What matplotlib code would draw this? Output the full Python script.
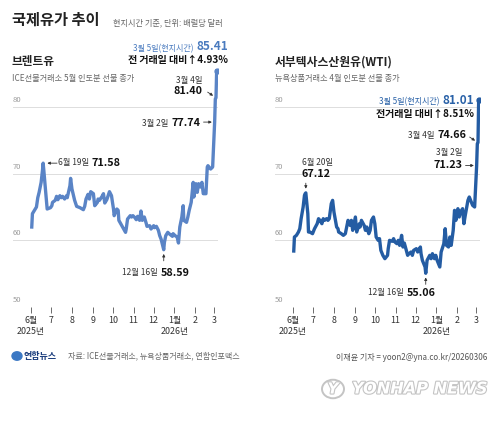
import matplotlib
matplotlib.use('Agg')
import matplotlib.pyplot as plt
import matplotlib.patheffects as pe
from matplotlib.patches import Circle
import pandas as pd

plt.rcParams['font.family'] = ['Noto Sans CJK KR', 'DejaVu Sans']

# ---- data ----
brent_dates = [
    '2025-06-02', '2025-06-03', '2025-06-06', '2025-06-09', '2025-06-11', '2025-06-13',
    '2025-06-16', '2025-06-18', '2025-06-19', '2025-06-20', '2025-06-23', '2025-06-25',
    '2025-06-30', '2025-07-02', '2025-07-03', '2025-07-07', '2025-07-09', '2025-07-11',
    '2025-07-14', '2025-07-16', '2025-07-18', '2025-07-21', '2025-07-24', '2025-07-25',
    '2025-07-29', '2025-07-30', '2025-08-01', '2025-08-05', '2025-08-08', '2025-08-13',
    '2025-08-18', '2025-08-20', '2025-08-22', '2025-08-25', '2025-08-27', '2025-08-29',
    '2025-09-02', '2025-09-04', '2025-09-08', '2025-09-09', '2025-09-11', '2025-09-15',
    '2025-09-17', '2025-09-19', '2025-09-22', '2025-09-24', '2025-09-26', '2025-09-29',
    '2025-10-02', '2025-10-03', '2025-10-07', '2025-10-09', '2025-10-10', '2025-10-15',
    '2025-10-20', '2025-10-21', '2025-10-23', '2025-10-27', '2025-10-29', '2025-10-31',
    '2025-11-03', '2025-11-05', '2025-11-07', '2025-11-10', '2025-11-12', '2025-11-14',
    '2025-11-17', '2025-11-20', '2025-11-21', '2025-11-25', '2025-11-27', '2025-12-01',
    '2025-12-02', '2025-12-05', '2025-12-08', '2025-12-10', '2025-12-12', '2025-12-16',
    '2025-12-17', '2025-12-19', '2025-12-22', '2025-12-24', '2025-12-29', '2025-12-30',
    '2026-01-02', '2026-01-05', '2026-01-07', '2026-01-09', '2026-01-12', '2026-01-14',
    '2026-01-15', '2026-01-19', '2026-01-21', '2026-01-23', '2026-01-26', '2026-01-29',
    '2026-01-30', '2026-02-02', '2026-02-04', '2026-02-06', '2026-02-09', '2026-02-11',
    '2026-02-13', '2026-02-17', '2026-02-19', '2026-02-20', '2026-02-24', '2026-02-27',
    '2026-03-02', '2026-03-03', '2026-03-04', '2026-03-05',
]
brent_vals = [
    62.0, 64.0, 64.5, 65.0, 66.4, 67.2,
    68.7, 70.5, 71.58, 70.5, 67.0, 64.7,
    64.9, 65.2, 65.7, 66.0, 66.6, 66.1,
    66.7, 66.4, 66.6, 66.2, 66.7, 66.4,
    68.2, 69.3, 67.7, 66.0, 65.1, 64.9,
    64.6, 65.1, 66.2, 66.9, 66.2, 67.3,
    67.0, 65.2, 65.7, 66.2, 66.0, 66.6,
    67.0, 65.6, 66.1, 66.7, 67.3, 66.7,
    64.7, 63.7, 64.7, 64.5, 63.0, 62.1,
    61.2, 61.7, 63.2, 63.7, 63.5, 63.7,
    63.4, 63.1, 63.6, 63.0, 64.4, 63.0,
    63.5, 62.5, 62.1, 62.2, 61.7, 62.2,
    61.9, 62.1, 61.5, 60.7, 60.2, 58.59,
    59.7, 60.7, 61.2, 61.0, 60.6, 61.0,
    60.7, 60.5, 59.6, 62.0, 63.5, 65.2,
    63.0, 62.7, 63.5, 64.5, 65.7, 68.7,
    66.5, 68.5, 67.2, 68.5, 68.0, 68.7,
    67.0, 67.0, 71.0, 71.2, 70.7, 71.0,
    77.74, 81.2, 81.40, 85.41,
]

wti_dates = [
    '2025-06-02', '2025-06-03', '2025-06-06', '2025-06-09', '2025-06-11', '2025-06-13',
    '2025-06-16', '2025-06-18', '2025-06-19', '2025-06-20', '2025-06-23', '2025-06-24',
    '2025-06-26', '2025-06-30', '2025-07-01', '2025-07-03', '2025-07-07', '2025-07-09',
    '2025-07-11', '2025-07-14', '2025-07-16', '2025-07-18', '2025-07-21', '2025-07-23',
    '2025-07-25', '2025-07-28', '2025-07-30', '2025-08-01', '2025-08-05', '2025-08-07',
    '2025-08-08', '2025-08-12', '2025-08-15', '2025-08-18', '2025-08-20', '2025-08-22',
    '2025-08-25', '2025-08-27', '2025-08-29', '2025-09-02', '2025-09-04', '2025-09-08',
    '2025-09-09', '2025-09-11', '2025-09-15', '2025-09-17', '2025-09-19', '2025-09-22',
    '2025-09-24', '2025-09-26', '2025-09-29', '2025-10-01', '2025-10-03', '2025-10-06',
    '2025-10-08', '2025-10-10', '2025-10-13', '2025-10-16', '2025-10-20', '2025-10-21',
    '2025-10-23', '2025-10-27', '2025-10-29', '2025-10-31', '2025-11-03', '2025-11-05',
    '2025-11-07', '2025-11-10', '2025-11-12', '2025-11-14', '2025-11-17', '2025-11-19',
    '2025-11-21', '2025-11-24', '2025-11-26', '2025-11-28', '2025-12-02', '2025-12-04',
    '2025-12-08', '2025-12-09', '2025-12-11', '2025-12-15', '2025-12-16', '2025-12-18',
    '2025-12-22', '2025-12-24', '2025-12-26', '2025-12-29', '2025-12-31', '2026-01-02',
    '2026-01-06', '2026-01-08', '2026-01-12', '2026-01-14', '2026-01-16', '2026-01-19',
    '2026-01-21', '2026-01-23', '2026-01-26', '2026-01-28', '2026-01-30', '2026-02-02',
    '2026-02-04', '2026-02-06', '2026-02-09', '2026-02-11', '2026-02-13', '2026-02-17',
    '2026-02-19', '2026-02-23', '2026-02-24', '2026-02-27', '2026-03-02', '2026-03-03',
    '2026-03-04', '2026-03-05',
]
wti_vals = [
    58.4, 60.5, 60.75, 61.25, 61.75, 63.25,
    65.0, 66.75, 67.0, 67.12, 64.0, 61.25,
    61.25, 61.0, 61.25, 61.75, 62.5, 63.25,
    63.0, 62.5, 63.25, 63.0, 63.25, 63.0,
    63.25, 65.5, 66.0, 64.25, 62.0, 61.75,
    61.25, 61.0, 60.75, 61.0, 62.0, 63.0,
    62.25, 63.0, 61.5, 63.5, 61.25, 62.5,
    62.0, 63.0, 62.25, 61.5, 62.0, 61.0,
    61.5, 63.0, 63.5, 62.5, 60.5, 60.0,
    60.25, 58.5, 57.75, 57.25, 57.75, 58.75,
    60.0, 59.85, 60.25, 59.75, 59.5, 60.0,
    59.25, 60.75, 59.0, 59.6, 58.5, 57.75,
    58.0, 58.25, 57.75, 58.5, 58.75, 58.25,
    59.0, 58.0, 57.0, 56.0, 55.06, 57.0,
    57.75, 57.25, 58.0, 57.25, 57.75, 57.0,
    56.0, 58.25, 59.5, 61.75, 59.25, 59.0,
    60.5, 59.25, 61.5, 64.5, 63.0, 64.75,
    63.5, 64.25, 64.75, 62.5, 63.75, 66.0,
    66.5, 65.5, 65.25, 65.0, 71.23, 74.5,
    74.66, 81.01,
]

month_ticks = ['2025-06-01', '2025-07-01', '2025-08-01', '2025-09-01', '2025-10-01',
               '2025-11-01', '2025-12-01', '2026-01-01', '2026-02-01', '2026-03-01']
month_labels = ['6월\n2025년', '7', '8', '9', '10', '11', '12', '1월\n2026년', '2', '3']
grid_vals = [50, 60, 70, 80]

brent_color = '#5a84c6'
wti_color = '#245ca3'

W, H = 500, 421
fig = plt.figure(figsize=(W / 100, H / 100), dpi=100)
fig.patch.set_facecolor('white')


def fx(x):
    return x / W


def fy(y):
    return 1 - y / H


def txt(x, y, s, **kw):
    kw.setdefault('va', 'center')
    return fig.text(fx(x), fy(y), s, **kw)


def after(t, s, **kw):
    # text glued to the right of another text
    return plt.annotate(s, xy=(1, 0), xycoords=t, xytext=(2, 0), textcoords='offset points',
                        ha='left', va='bottom', annotation_clip=False, **kw)


def before(t, s, **kw):
    # text glued to the left of another text
    return plt.annotate(s, xy=(0, 0), xycoords=t, xytext=(-2, 0), textcoords='offset points',
                        ha='right', va='bottom', annotation_clip=False, **kw)


def make_ax(left_px, dates, vals, color):
    ax = fig.add_axes([fx(left_px), fy(307), 205 / W, 253.3 / H])
    ax.set_facecolor('none')
    d = pd.to_datetime(dates)
    ax.plot(d, vals, color=color, lw=2.4, solid_joinstyle='round', zorder=3)
    ax.plot(d[-1], vals[-1], 'o', ms=3.5, color=color, zorder=4)
    ax.set_xlim(pd.Timestamp('2025-05-05'), pd.Timestamp('2026-03-07'))
    ax.set_ylim(50, 88)
    for s in ax.spines.values():
        s.set_visible(False)
    for g in grid_vals:
        ax.axhline(g, color='#dddddd', lw=0.7, zorder=1)
        ax.text(0, g + 0.45, str(g), transform=ax.get_yaxis_transform(),
                ha='left', va='bottom', fontsize=5.5, color='#9a9a9a')
    ax.set_yticks([])
    ax.set_xticks(pd.to_datetime(month_ticks))
    ax.set_xticklabels(month_labels, linespacing=1.35)
    ax.tick_params(axis='x', length=4, width=0.6, color='#555555', pad=2.5,
                   labelsize=6.4, labelcolor='#333333')
    return ax


def arrow(ax, d, v, dx, dy, shrink=2.5):
    ax.annotate('', xy=(pd.Timestamp(d), v), xytext=(dx, dy), textcoords='offset points',
                arrowprops=dict(arrowstyle='-|>', color='#333333', lw=0.6,
                                mutation_scale=4, shrinkA=0, shrinkB=shrink),
                annotation_clip=False)


ax1 = make_ax(13, brent_dates, brent_vals, brent_color)
ax2 = make_ax(275, wti_dates, wti_vals, wti_color)

# ---- headings ----
txt(12, 20, '국제유가 추이', fontsize=11, fontweight='bold', color='#222222')
txt(113, 23, '현지시간 기준, 단위: 배럴당 달러', fontsize=5.9, color='#666666')
txt(12, 62, '브렌트유', fontsize=8.4, fontweight='bold', color='#222222')
txt(12, 79, 'ICE선물거래소 5월 인도분 선물 종가', fontsize=5.9, color='#666666')
txt(275, 62, '서부텍사스산원유(WTI)', fontsize=8.5, fontweight='bold', color='#222222')
txt(275, 79, '뉴욕상품거래소 4월 인도분 선물 종가', fontsize=5.9, color='#666666')

bold = dict(fontweight='bold', color='#111111')
norm = dict(fontsize=6, color='#333333')

# ---- Brent annotations ----
t = txt(228, 47, f'{brent_vals[-1]:.2f}', ha='right', fontsize=8.5, fontweight='bold',
        color='#4a7bbf')
before(t, '3월 5일(현지시간)', fontsize=5.8, color='#4a7bbf')
txt(228, 60, '전 거래일 대비↑4.93%', ha='right', fontsize=7.2, **bold)
txt(203, 80, '3월 4일', ha='right', **norm)
txt(203, 91, f'{brent_vals[-2]:.2f}', ha='right', fontsize=7.8, **bold)
arrow(ax1, brent_dates[-2], brent_vals[-2], -6, 4)
t = txt(200, 123, f'{brent_vals[-4]:.2f}', ha='right', fontsize=7.8, **bold)
before(t, '3월 2일', **norm)
arrow(ax1, brent_dates[-4], brent_vals[-4], -8, 0, shrink=2)
pk = brent_vals.index(71.58)
t = txt(58, 163, '6월 19일', ha='left', **norm)
after(t, f'{brent_vals[pk]:.2f}', fontsize=7.8, **bold)
arrow(ax1, brent_dates[pk], brent_vals[pk], 10, 0, shrink=3)
lo = brent_vals.index(58.59)
t = txt(122, 273, '12월 16일', ha='left', **norm)
after(t, f'{brent_vals[lo]:.2f}', fontsize=7.8, **bold)
arrow(ax1, brent_dates[lo], brent_vals[lo], 0, -8, shrink=3)

# ---- WTI annotations ----
t = txt(474, 100, f'{wti_vals[-1]:.2f}', ha='right', fontsize=8.5, fontweight='bold',
        color='#2a62a8')
before(t, '3월 5일(현지시간)', fontsize=5.8, color='#2a62a8')
txt(474, 114, '전거래일 대비↑8.51%', ha='right', fontsize=7.2, **bold)
t = txt(466, 135, f'{wti_vals[-2]:.2f}', ha='right', fontsize=7.8, **bold)
before(t, '3월 4일', **norm)
arrow(ax2, wti_dates[-2], wti_vals[-2], -6, 4)
txt(462, 153, '3월 2일', ha='right', **norm)
txt(463, 165, f'{wti_vals[-4]:.2f}', ha='right', fontsize=7.8, **bold)
arrow(ax2, wti_dates[-4], wti_vals[-4], -8, 0, shrink=2)
pk = wti_vals.index(67.12)
txt(302, 162, '6월 20일', ha='left', **norm)
txt(301, 174, f'{wti_vals[pk]:.2f}', ha='left', fontsize=7.8, **bold)
arrow(ax2, wti_dates[pk], wti_vals[pk], 0, 7, shrink=3)
lo = wti_vals.index(55.06)
t = txt(368, 293, '12월 16일', ha='left', **norm)
after(t, f'{wti_vals[lo]:.2f}', fontsize=7.8, **bold)
arrow(ax2, wti_dates[lo], wti_vals[lo], 0, -8, shrink=3)

# ---- footer ----
fig.add_artist(Circle((fx(17), fy(356)), 5 / W, transform=fig.transFigure,
                      color='#3b78c4', zorder=5))
txt(24, 356, '연합뉴스', fontsize=6.5, fontweight='bold', color='#1b3d7d')
txt(68, 356, '자료: ICE선물거래소, 뉴욕상품거래소, 연합인포맥스', fontsize=5.8, color='#666666')
txt(487, 357, '이재윤 기자 = yoon2@yna.co.kr/20260306', ha='right', fontsize=5.8,
    color='#555555')

# watermark
halo = [pe.withStroke(linewidth=1.6, foreground='#c4c4c4')]
fig.add_artist(Circle((fx(333), fy(389)), 11 / W, transform=fig.transFigure,
                      facecolor='white', edgecolor='#c4c4c4', lw=1.4, zorder=5))
txt(333, 389, 'Y', ha='center', fontsize=11, fontweight='bold', style='italic',
    family='DejaVu Sans', color='white', path_effects=halo, zorder=6)
txt(352, 389, 'YONHAP NEWS', ha='left', fontsize=11.6, fontweight='bold', style='italic',
    family='DejaVu Sans', color='white', path_effects=halo)

fig.savefig('out.png', dpi=100, facecolor='white')
